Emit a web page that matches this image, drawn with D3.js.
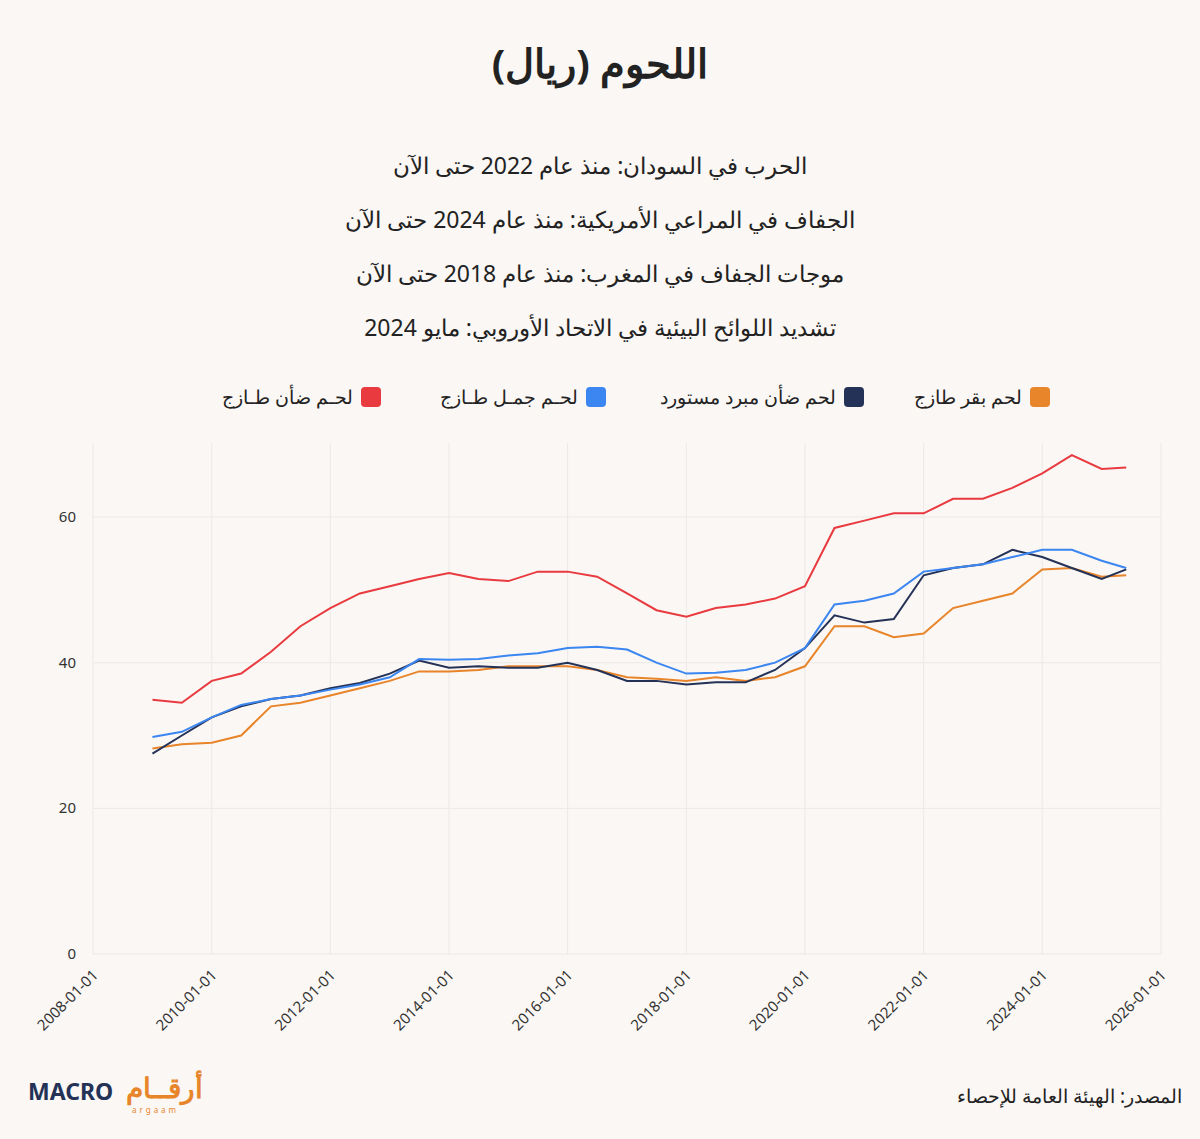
<!DOCTYPE html>
<html><head><meta charset="utf-8">
<script src="https://cdn.jsdelivr.net/npm/d3@7"></script>
<style>body{margin:0;background:#faf7f4;font-family:"Noto Sans",sans-serif}</style>
</head><body><svg id="c" width="1200" height="1139"></svg>
<script>
// half-yearly readings
var dates = ["2009-01","2009-07","2010-01","2010-07","2011-01","2011-07","2012-01","2012-07","2013-01","2013-07","2014-01","2014-07","2015-01","2015-07","2016-01","2016-07","2017-01","2017-07","2018-01","2018-07","2019-01","2019-07","2020-01","2020-07","2021-01","2021-07","2022-01","2022-07","2023-01","2023-07","2024-01","2024-07","2025-01","2025-06"];
var beef = [28.2,28.8,29,30,34,34.5,35.5,36.5,37.5,38.8,38.8,39,39.5,39.5,39.5,39,38,37.8,37.5,38,37.5,38,39.5,45,45,43.5,44,47.5,48.5,49.5,52.8,53,51.8,52];
var chilledLamb = [27.5,30,32.5,34,35,35.5,36.5,37.2,38.5,40.3,39.3,39.5,39.3,39.3,40,39,37.5,37.5,37,37.3,37.3,39,42,46.5,45.5,46,52,53,53.5,55.5,54.5,53,51.5,52.8];
var camel = [29.8,30.5,32.5,34.2,35,35.5,36.3,37,38,40.5,40.4,40.5,41,41.3,42,42.2,41.8,40,38.5,38.6,39,40,42,48,48.5,49.5,52.5,53,53.5,54.5,55.5,55.5,54,53];
var lamb = [34.9,34.5,37.5,38.5,41.5,45,47.5,49.5,50.5,51.5,52.3,51.5,51.2,52.5,52.5,51.8,49.5,47.2,46.3,47.5,48,48.8,50.5,58.5,59.5,60.5,60.5,62.5,62.5,64,66,68.5,66.6,66.8];
var names = ["لحم بقر طازج","لحم ضأن مبرد مستورد","لحـم جمـل طـازج","لحـم ضأن طـازج"];
var colors = ["#e8842a","#243257","#3b86f0","#e83a3f"];
var series = [beef, chilledLamb, camel, lamb];
var notes = ["الحرب في السودان: منذ عام 2022 حتى الآن","الجفاف في المراعي الأمريكية: منذ عام 2024 حتى الآن","موجات الجفاف في المغرب: منذ عام 2018 حتى الآن","تشديد اللوائح البيئية في الاتحاد الأوروبي: مايو 2024"];
var yTicks = [0,20,40,60];

var svg = d3.select("#c");
var parse = d3.timeParse("%Y-%m");
var x = d3.scaleTime().domain([new Date(2008,0,1), new Date(2026,0,1)]).range([93,1161]);
var y = d3.scaleLinear().domain([0,60]).range([954,517]);

svg.append("text").attr("x",600).attr("y",78).attr("text-anchor","middle")
  .attr("font-size",40).attr("font-weight","bold").attr("fill","#222").text("اللحوم (ريال)");
notes.forEach(function(t,i){
  svg.append("text").attr("x",600).attr("y",174+i*54).attr("text-anchor","middle")
    .attr("font-size",23).attr("fill","#222").text(t);
});
// legend
var lx = [1050,864,606,381];
names.forEach(function(n,i){
  svg.append("rect").attr("x",lx[i]-20).attr("y",387).attr("width",20).attr("height",20).attr("rx",4).attr("fill",colors[i]);
  svg.append("text").attr("x",lx[i]-28).attr("y",404).attr("text-anchor","end")
    .attr("font-size",19).attr("fill","#222").text(n);
});
// grid
var xTicks = d3.range(2008,2027,2).map(function(yr){return new Date(yr,0,1);});
svg.append("g").selectAll("line").data(xTicks).join("line")
  .attr("x1",x).attr("x2",x).attr("y1",443).attr("y2",954).attr("stroke","#ece9e6");
svg.append("g").selectAll("line").data(yTicks).join("line")
  .attr("x1",93).attr("x2",1161).attr("y1",y).attr("y2",y).attr("stroke","#ece9e6");
svg.append("g").selectAll("text").data(yTicks).join("text")
  .attr("x",76).attr("y",function(d){return y(d)+5;}).attr("text-anchor","end")
  .attr("font-size",15).attr("fill","#333").text(function(d){return d;});
var fmt = d3.timeFormat("%Y-%m-%d");
svg.append("g").selectAll("text").data(xTicks).join("text")
  .attr("transform",function(d){return "translate("+(x(d)+6)+",976) rotate(-45)";})
  .attr("text-anchor","end").attr("font-size",15).attr("fill","#333").text(fmt);
// lines
var line = d3.line().x(function(d,i){return x(parse(dates[i]));}).y(function(d){return y(d);});
series.forEach(function(s,i){
  svg.append("path").datum(s).attr("d",line).attr("fill","none").attr("stroke",colors[i]).attr("stroke-width",2);
});
// footer
svg.append("text").attr("x",1182).attr("y",1103).attr("text-anchor","end")
  .attr("font-size",19).attr("fill","#222").text("المصدر: الهيئة العامة للإحصاء");
svg.append("text").attr("x",28).attr("y",1100).attr("font-size",23).attr("font-weight","bold").attr("fill","#243257").text("MACRO");
svg.append("text").attr("x",126).attr("y",1098).attr("font-size",28).attr("font-weight","bold").attr("fill","#e8842a").text("أرقــام");
svg.append("text").attr("x",132).attr("y",1113).attr("font-size",8).attr("letter-spacing",3).attr("fill","#e8842a").text("argaam");
</script></body></html>
